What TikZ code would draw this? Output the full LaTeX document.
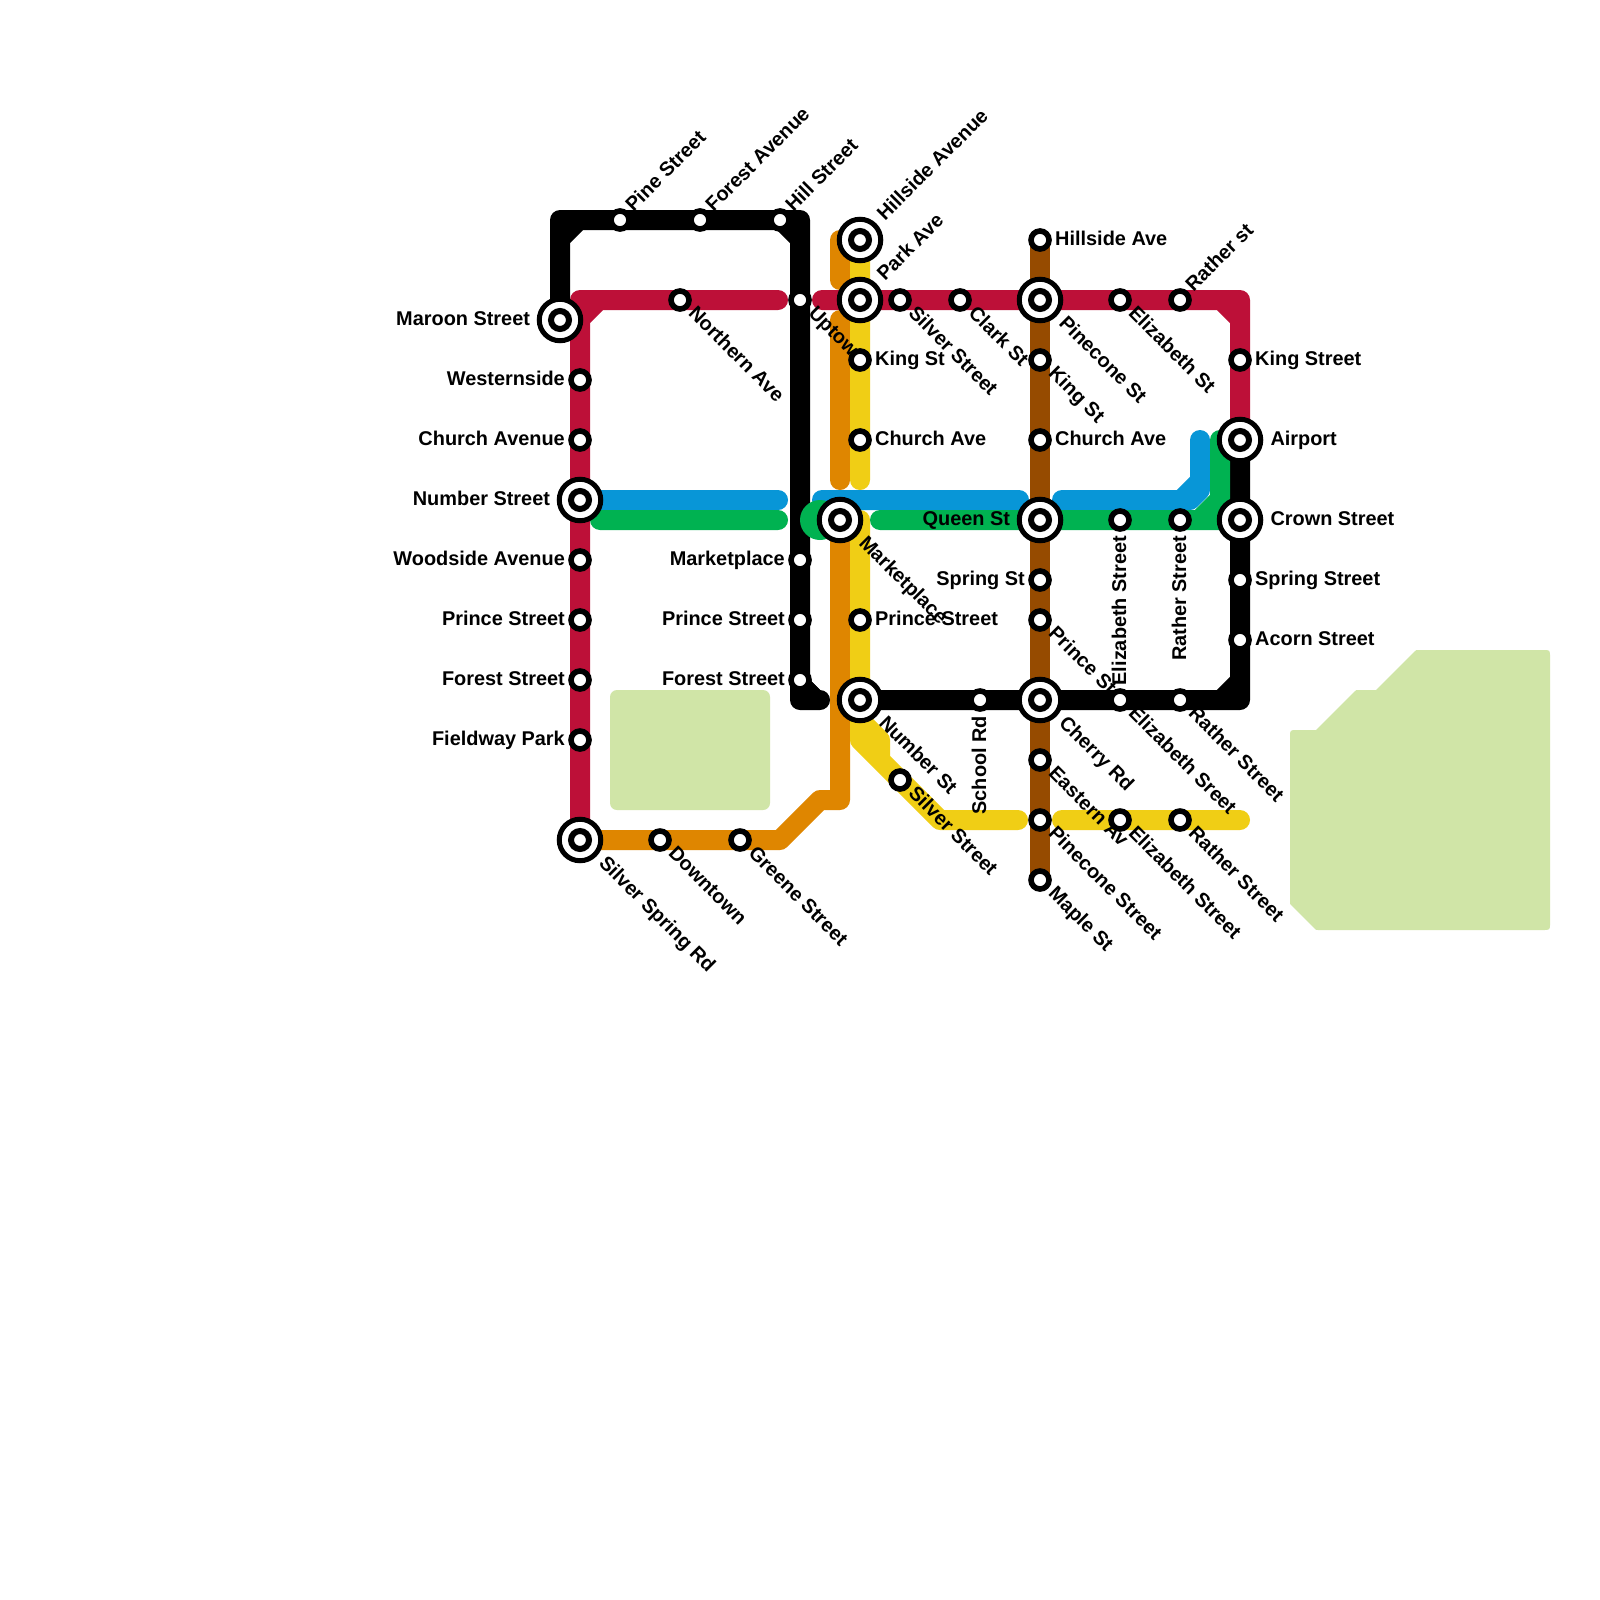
\documentclass[tikz,border=0pt]{standalone}
\usepackage{fontspec}
\setmainfont{Liberation Sans}
\definecolor{cred}{HTML}{BD1038}
\definecolor{cblue}{HTML}{0896D7}
\definecolor{cgreen}{HTML}{00B251}
\definecolor{corange}{HTML}{DF8600}
\definecolor{cyellow}{HTML}{F0CE15}
\definecolor{cbrown}{HTML}{964B00}
\definecolor{cpark}{HTML}{D0E5A7}
\tikzset{
  route/.style={line width=20pt,line cap=round,line join=round},
  park/.style={fill=cpark,rounded corners=7pt},
  lbl/.style={inner sep=0pt,outer sep=0pt,font=\fontsize{19.9}{22}\selectfont\bfseries,text=black},
  lr/.style={lbl,anchor=base west,xshift=15.2pt,yshift=-5pt},
  ll/.style={lbl,anchor=base east,xshift=-15.2pt,yshift=-5pt},
  lrx/.style={lbl,anchor=base west,xshift=30.5pt,yshift=-5pt},
  llx/.style={lbl,anchor=base east,xshift=-30pt,yshift=-5pt},
  lur/.style={lbl,anchor=base west,xshift=13.5pt,yshift=7.5pt,rotate=45},
  lurx/.style={lbl,anchor=base west,xshift=25pt,yshift=18.5pt,rotate=45},
  ldr/.style={lbl,anchor=base west,xshift=7.5pt,yshift=-14.5pt,rotate=-45},
  ldrx/.style={lbl,anchor=base west,xshift=18pt,yshift=-24pt,rotate=-45},
  lv/.style={lbl,anchor=base east,xshift=6pt,yshift=-16pt,rotate=90},
  stn/.style={circle,draw=black,fill=white,line width=5.6pt,minimum size=18pt,inner sep=0pt},
  hubo/.style={circle,draw=black,fill=white,line width=5pt,minimum size=41.5pt,inner sep=0pt},
  hubi/.style={circle,draw=black,fill=white,line width=6pt,minimum size=18pt,inner sep=0pt},
}
\begin{document}
\begin{tikzpicture}[x=1pt,y=-1pt]
\useasboundingbox (0,0) rectangle (1600,1600);
\fill[white] (0,0) rectangle (1600,1600);
% parks
\fill[park] (610,690) rectangle (770,810);
\fill[cpark] (1297,730) -- (1316,730) -- (1354,692) .. controls (1356,690) .. (1359,690) -- (1376,690) -- (1414,652) .. controls (1416,650) .. (1419,650) -- (1543,650) .. controls (1550,650) .. (1550,657) -- (1550,923) .. controls (1550,930) .. (1543,930) -- (1318,930) .. controls (1316,930) .. (1314,928) -- (1292,906) .. controls (1290,904) .. (1290,902) -- (1290,737) .. controls (1290,730) .. (1297,730) -- cycle;
% station positions
\foreach \n/\x/\y in {
 maroon/560/320,westernside/580/380,churchav/580/440,numberst/580/500,woodside/580/560,
 princea/580/620,foresta/580/680,fieldway/580/740,silverspring/580/840,
 downtown/660/840,greene/740/840,pine/620/220,forestave/700/220,hill/780/220,
 uptown/800/300,marketa/800/560,princeb/800/620,forestb/800/680,northern/680/300,
 hillsidea/860/240,park/860/300,kinga/860/360,churcha/860/440,marketb/840/520,
 princec/860/620,numbersq/860/700,silverb/900/780,silvera/900/300,clark/960/300,
 school/980/700,hillsideb/1040/240,pinecone/1040/300,kingb/1040/360,churchb/1040/440,
 queen/1040/520,springa/1040/580,princed/1040/620,cherry/1040/700,eastern/1040/760,
 pineconeb/1040/820,maple/1040/880,elizt/1120/300,elizg/1120/520,elizk/1120/700,
 elizy/1120/820,rathert/1180/300,ratherg/1180/520,ratherk/1180/700,rathery/1180/820,
 kingc/1240/360,airport/1240/440,crown/1240/520,springb/1240/580,acorn/1240/640}
 {\coordinate (\n) at (\x,\y);}
\foreach \n/\x/\y in {
 ca/560/220,cb/800/220,cc/800/700,cd/820/700,ce/560/239,cf/579/220,cg/781/220,ch/800/239,ci/800/684,cj/816/700,
 ra/580/300,rb/778/300,rc/822/300,rd/1240/300,re/580/319,rf/599/300,rg/1221/300,rh/1240/319,
 ka/1240/700,kb/1240/681,kc/1221/700,
 oa/840/240,ob/840/280,oc/840/320,od/840/480,oe/840/800,of/820/800,og/780/840,
 ya/860/480,yb/860/740,yc/940/820,yd/1018/820,ye/1062/820,yf/1240/820,yg/860/720,yh/880/740,yi/880/760,
 ba/600/500,bb/778/500,bc/822/500,bd/1019/500,be/1062/500,bf/1190/500,bg/1200/490,bh/1200/440,bi/1181/500,bj/1200/481,
 ga/600/520,gb/778/520,gc/880/520,gd/1220/520,ge/1220/440,gf/1199/520,gg/1220/499,gh/820/520}
 {\coordinate (\n) at (\x,\y);}
% lines
\draw[route,cred] (silverspring) -- (ra) -- (rb) (rc) -- (rd) -- (airport) (re) -- (rf) (rg) -- (rh);
\draw[route,corange] (oa) -- (ob) (oc) -- (od) (marketb) -- (oe) -- (of) -- (og) -- (silverspring);
\draw[route,cyellow] (hillsidea) -- (ya) (marketb -| ya) -- (yb) -- (yc) -- (yd) (ye) -- (yf) (yg) -- (yh) -- (yi);
\draw[route,cbrown] (hillsideb) -- (maple);
\draw[route,cblue] (numberst) -- (bb) (bc) -- (bd) (be) -- (bf) -- (bg) -- (bh) (bi) -- (bj);
\draw[route,black] (maroon) -- (ca) -- (cb) -- (cc) -- (cd) (ce) -- (cf) (cg) -- (ch) (ci) -- (cj);
\fill[black] (810,680) -- (828,698) -- (828,704) -- (810,704) -- cycle;
\draw[route,black] (airport) -- (ka) -- (numbersq) (kb) -- (kc);
\draw[route,cgreen] (ga) -- (gb) (gc) -- (gd) -- (ge) (gf) -- (gg);
\fill[cgreen] (gh) circle[radius=20pt];
% labels
\node[llx] (t1) at (maroon) {Maroon Street};
\node[ll] (t2) at (westernside) {Westernside};
\node[ll] (t3) at (churchav) {Church Avenue};
\node[llx] (t4) at (numberst) {Number Street};
\node[ll] (t5) at (woodside) {Woodside Avenue};
\node[ll] (t6) at (princea) {Prince Street};
\node[ll] (t7) at (foresta) {Forest Street};
\node[ll] (t8) at (fieldway) {Fieldway Park};
\node[ldrx] (t9) at (silverspring) {Silver Spring Rd};
\node[ldr] (t10) at (downtown) {Downtown};
\node[ldr] (t11) at (greene) {Greene Street};
\node[lur] (t12) at (pine) {Pine Street};
\node[lur] (t13) at (forestave) {Forest Avenue};
\node[lur] (t14) at (hill) {Hill Street};
\node[ldr] (t15) at (northern) {Northern Ave};
\node[ldr] (t16) at (uptown) {Uptown};
\node[ll] (t17) at (marketa) {Marketplace};
\node[ll] (t18) at (princeb) {Prince Street};
\node[ll] (t19) at (forestb) {Forest Street};
\node[lurx] (t20) at (hillsidea) {Hillside Avenue};
\node[lurx] (t21) at (park) {Park Ave};
\node[lr] (t22) at (kinga) {King St};
\node[lr] (t23) at (churcha) {Church Ave};
\node[ldrx] (t24) at (marketb) {Marketplace};
\node[lr] (t25) at (princec) {Prince Street};
\node[ldrx] (t26) at (numbersq) {Number St};
\node[ldr] (t27) at (silverb) {Silver Street};
\node[ldr] (t28) at (silvera) {Silver Street};
\node[ldr] (t29) at (clark) {Clark St};
\node[lv] (t30) at (school) {School Rd};
\node[lr] (t31) at (hillsideb) {Hillside Ave};
\node[ldrx] (t32) at (pinecone) {Pinecone St};
\node[ldr] (t33) at (kingb) {King St};
\node[lr] (t34) at (churchb) {Church Ave};
\node[llx] (t35) at (queen) {Queen St};
\node[ll] (t36) at (springa) {Spring St};
\node[ldr] (t37) at (princed) {Prince St};
\node[ldrx] (t38) at (cherry) {Cherry Rd};
\node[ldr] (t39) at (eastern) {Eastern Av};
\node[ldr] (t40) at (pineconeb) {Pinecone Street};
\node[ldr] (t41) at (maple) {Maple St};
\node[ldr] (t42) at (elizt) {Elizabeth St};
\node[lv] (t43) at (elizg) {Elizabeth Street};
\node[ldr] (t44) at (elizk) {Elizabeth Sreet};
\node[ldr] (t45) at (elizy) {Elizabeth Street};
\node[lur] (t46) at (rathert) {Rather st};
\node[lv] (t47) at (ratherg) {Rather Street};
\node[ldr] (t48) at (ratherk) {Rather Street};
\node[ldr] (t49) at (rathery) {Rather Street};
\node[lr] (t50) at (kingc) {King Street};
\node[lrx] (t51) at (airport) {Airport};
\node[lrx] (t52) at (crown) {Crown Street};
\node[lr] (t53) at (springb) {Spring Street};
\node[lr] (t54) at (acorn) {Acorn Street};
% stations
\foreach \n in {westernside,churchav,woodside,princea,foresta,fieldway,downtown,greene,pine,forestave,hill,uptown,marketa,princeb,forestb,northern,kinga,churcha,princec,silverb,silvera,clark,school,hillsideb,kingb,churchb,springa,princed,eastern,pineconeb,maple,elizt,elizg,elizk,elizy,rathert,ratherg,ratherk,rathery,kingc,springb,acorn}
 {\node[stn] (s-\n) at (\n) {};}
\foreach \n in {maroon,numberst,silverspring,hillsidea,park,marketb,numbersq,pinecone,queen,cherry,airport,crown}
 {\node[hubo] (h-\n) at (\n) {}; \node[hubi] (s-\n) at (\n) {};}
\end{tikzpicture}
\end{document}
